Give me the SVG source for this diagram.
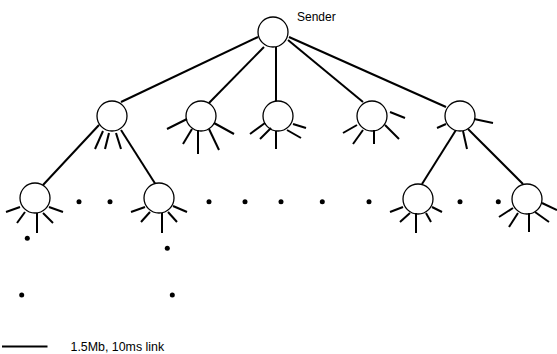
<svg xmlns="http://www.w3.org/2000/svg" width="557" height="354" viewBox="0 0 557 354">
<style>
.ln{stroke:#000;stroke-width:2;fill:none;stroke-linecap:butt}
.nd{fill:#fff;stroke:#000;stroke-width:1.3}
.dot{fill:#000}
.tx{font-family:"Liberation Sans",Arial,sans-serif;font-size:12px;fill:#000}
</style>
<rect width="557" height="354" fill="#fff"/>
<g id="connectors" class="ln">
<line x1="258" y1="37" x2="121" y2="102"/>
<line x1="264" y1="47" x2="209" y2="103"/>
<line x1="276" y1="47" x2="276" y2="101"/>
<line x1="288" y1="40" x2="363" y2="102"/>
<line x1="289" y1="37" x2="446" y2="107"/>
<line x1="99" y1="125" x2="43" y2="185"/>
<line x1="121" y1="130" x2="156" y2="185"/>
<line x1="456" y1="130" x2="422" y2="184"/>
<line x1="468" y1="129" x2="523" y2="184"/>
</g>
<g id="sender">
<circle class="nd" cx="273" cy="32" r="15"/>
<text class="tx" x="297" y="21">Sender</text>
</g>
<g id="n1a" class="ln">
<circle class="nd" cx="112" cy="116" r="15"/>
<line x1="103" y1="131" x2="95" y2="149"/>
<line x1="109" y1="133" x2="105" y2="149"/>
<line x1="116" y1="133" x2="121" y2="149"/>
</g>
<g id="n1b" class="ln">
<circle class="nd" cx="201" cy="116" r="15"/>
<line x1="187" y1="119" x2="167" y2="129"/>
<line x1="192" y1="129" x2="183" y2="144"/>
<line x1="198" y1="130" x2="198" y2="154"/>
<line x1="209" y1="129" x2="219" y2="150"/>
<line x1="214" y1="123" x2="234" y2="134"/>
</g>
<g id="n1c" class="ln">
<circle class="nd" cx="278" cy="116" r="15"/>
<line x1="265" y1="123" x2="250" y2="134"/>
<line x1="271" y1="128" x2="260" y2="139"/>
<line x1="276" y1="131" x2="276" y2="149"/>
<line x1="287" y1="130" x2="301" y2="138"/>
<line x1="293" y1="124" x2="306" y2="128"/>
</g>
<g id="n1d" class="ln">
<circle class="nd" cx="372" cy="116" r="15"/>
<line x1="390" y1="112" x2="405" y2="118"/>
<line x1="357" y1="125" x2="343" y2="133"/>
<line x1="363" y1="130" x2="353" y2="144"/>
<line x1="374" y1="130" x2="374" y2="144"/>
<line x1="385" y1="125" x2="399" y2="139"/>
</g>
<g id="n1e" class="ln">
<circle class="nd" cx="460" cy="116" r="15"/>
<line x1="474" y1="119" x2="493" y2="123"/>
<line x1="446" y1="124" x2="437" y2="128"/>
<line x1="463" y1="131" x2="467" y2="149"/>
</g>
<g id="n2a" class="ln">
<circle class="nd" cx="35" cy="198" r="15"/>
<line x1="20" y1="207" x2="6" y2="212"/>
<line x1="25" y1="212" x2="17" y2="223"/>
<line x1="37" y1="213" x2="37" y2="233"/>
<line x1="43" y1="213" x2="53" y2="223"/>
<line x1="49" y1="207" x2="63" y2="212"/>
</g>
<g id="n2b" class="ln">
<circle class="nd" cx="159" cy="198" r="15"/>
<line x1="145" y1="207" x2="131" y2="212"/>
<line x1="150" y1="212" x2="141" y2="222"/>
<line x1="162" y1="213" x2="162" y2="233"/>
<line x1="168" y1="212" x2="177" y2="222"/>
<line x1="173" y1="206" x2="187" y2="212"/>
</g>
<g id="n2c" class="ln">
<circle class="nd" cx="418" cy="199" r="15"/>
<line x1="403" y1="207" x2="390" y2="212"/>
<line x1="410" y1="213" x2="400" y2="222"/>
<line x1="416" y1="213" x2="416" y2="233"/>
<line x1="426" y1="213" x2="431" y2="222"/>
<line x1="432" y1="207" x2="442" y2="212"/>
</g>
<g id="n2d" class="ln">
<circle class="nd" cx="527" cy="199" r="15"/>
<line x1="513" y1="208" x2="499" y2="217"/>
<line x1="518" y1="213" x2="509" y2="227"/>
<line x1="529" y1="213" x2="529" y2="232"/>
<line x1="535" y1="212" x2="549" y2="222"/>
<line x1="542" y1="203" x2="557" y2="210"/>
</g>
<g id="dots" class="dot">
<circle cx="79" cy="201.7" r="2.5"/>
<circle cx="110" cy="201.7" r="2.5"/>
<circle cx="209" cy="201.7" r="2.5"/>
<circle cx="245" cy="201.7" r="2.5"/>
<circle cx="281" cy="201.7" r="2.5"/>
<circle cx="322.3" cy="201.7" r="2.5"/>
<circle cx="369" cy="201.7" r="2.5"/>
<circle cx="460" cy="201.7" r="2.5"/>
<circle cx="498.3" cy="201.7" r="2.5"/>
<circle cx="27.3" cy="238.3" r="2.5"/>
<circle cx="21.7" cy="295" r="2.5"/>
<circle cx="167.3" cy="248.3" r="2.5"/>
<circle cx="172.3" cy="295" r="2.5"/>
</g>
<g id="legend">
<line class="ln" x1="2" y1="346.5" x2="47.5" y2="346.5"/>
<text class="tx" x="70.5" y="351" style="font-size:12.4px">1.5Mb, 10ms link</text>
</g>
</svg>
